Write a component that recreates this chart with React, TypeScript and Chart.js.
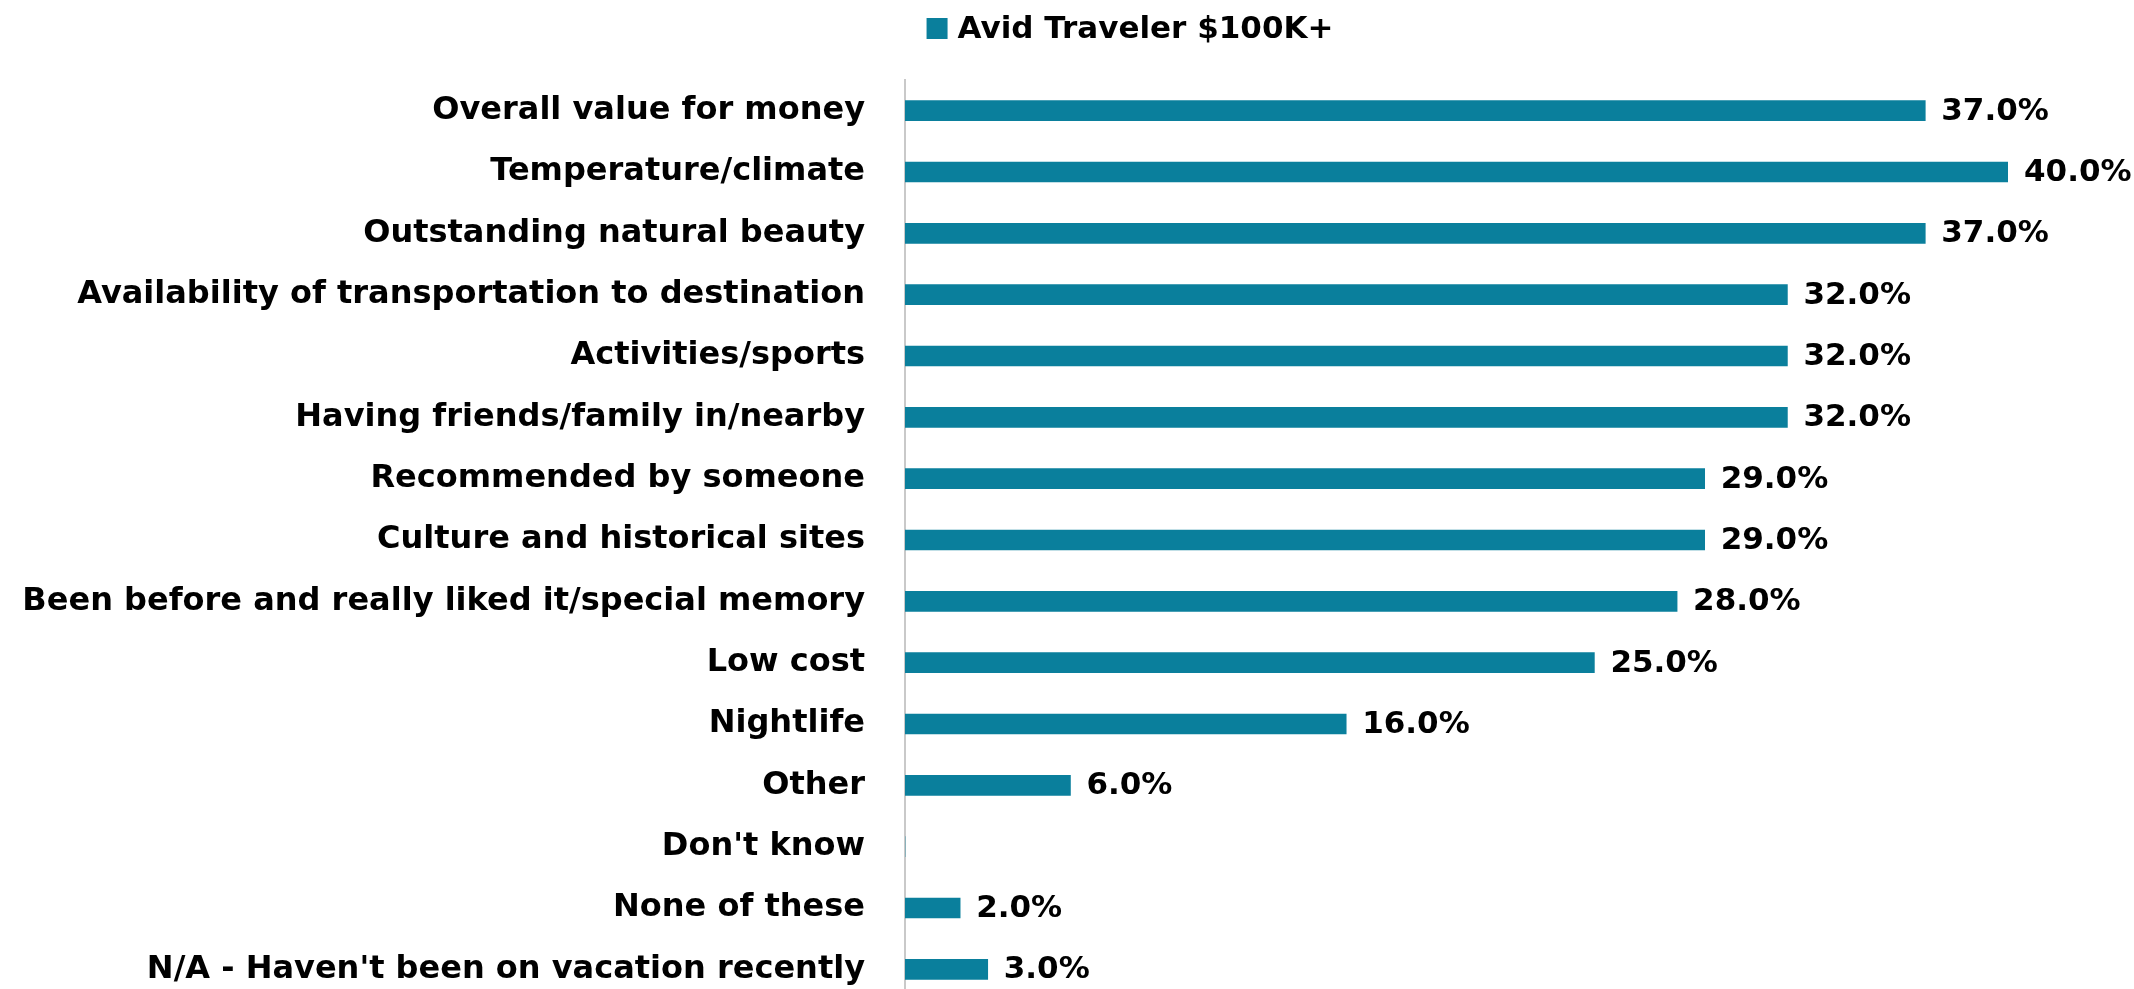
import React, { useEffect, useRef } from "react";
import { Chart, registerables } from "chart.js";

Chart.register(...registerables);

const categories: string[] = [
  "Overall value for money",
  "Temperature/climate",
  "Outstanding natural beauty",
  "Availability of transportation to destination",
  "Activities/sports",
  "Having friends/family in/nearby",
  "Recommended by someone",
  "Culture and historical sites",
  "Been before and really liked it/special memory",
  "Low cost",
  "Nightlife",
  "Other",
  "Don't know",
  "None of these",
  "N/A - Haven't been on vacation recently",
];

const seriesName = "Avid Traveler $100K+";
const seriesValues: number[] = [37, 40, 37, 32, 32, 32, 29, 29, 28, 25, 16, 6, 0, 2, 3];

const xMin = 0;
const xMax = 40;

const BAR_COLOR = "#0a7f9c";
const FONT = "'DejaVu Sans', sans-serif";

const valueLabelPlugin = {
  id: "valueLabels",
  afterDatasetsDraw(chart: any) {
    const ctx = chart.ctx;
    ctx.save();
    ctx.font = `bold 31px ${FONT}`;
    ctx.fillStyle = "#000";
    ctx.textAlign = "left";
    ctx.textBaseline = "middle";
    chart.data.datasets.forEach((ds: any, di: number) => {
      const meta = chart.getDatasetMeta(di);
      meta.data.forEach((el: any, i: number) => {
        const v = ds.data[i];
        if (v === null || v === undefined || v === 0) return;
        ctx.fillText(v.toFixed(1) + "%", el.x + 16, el.y + 1);
      });
    });
    ctx.restore();
  },
};

const topLegendPlugin = {
  id: "topLegend",
  afterDraw(chart: any) {
    const ctx = chart.ctx;
    const ds = chart.data.datasets[0];
    ctx.save();
    ctx.font = `bold 31px ${FONT}`;
    const tw = ctx.measureText(ds.label).width;
    const box = 21;
    const gap = 10;
    const total = box + gap + tw;
    const cx = 1130;
    const x0 = cx - total / 2;
    const cy = 28.5;
    ctx.fillStyle = ds.backgroundColor;
    ctx.fillRect(x0, cy - box / 2, box, box);
    ctx.fillStyle = "#000";
    ctx.textAlign = "left";
    ctx.textBaseline = "middle";
    ctx.fillText(ds.label, x0 + box + gap, cy + 1);
    ctx.restore();
  },
};

export default function App() {
  const canvasRef = useRef<HTMLCanvasElement | null>(null);

  useEffect(() => {
    if (!canvasRef.current) return;
    const chart = new Chart(canvasRef.current, {
      type: "bar",
      data: {
        labels: categories,
        datasets: [
          {
            label: seriesName,
            data: seriesValues,
            backgroundColor: BAR_COLOR,
            borderWidth: 0,
            barThickness: 20,
          },
        ],
      },
      options: {
        indexAxis: "y",
        responsive: false,
        animation: false,
        devicePixelRatio: 1,
        layout: { padding: { top: 80, right: 126, left: 0, bottom: 1 } },
        plugins: {
          legend: { display: false },
          tooltip: { enabled: false },
        },
        scales: {
          x: {
            display: false,
            min: xMin,
            max: xMax,
          },
          y: {
            grid: { display: false },
            border: { display: true, color: "#c9c9c9", width: 2 },
            ticks: {
              color: "#000",
              padding: 32,
              font: { family: FONT, size: 32, weight: "bold" },
            },
            afterFit(scale: any) {
              scale.width = 905;
              scale.paddingTop = 0;
              scale.paddingBottom = 0;
            },
          },
        },
      },
      plugins: [valueLabelPlugin, topLegendPlugin],
    } as any);
    return () => chart.destroy();
  }, []);

  return (
    <div
      style={{
        position: "fixed",
        left: 0,
        top: 0,
        width: 2134,
        height: 989,
        overflow: "hidden",
        background: "#fff",
      }}
    >
      <canvas ref={canvasRef} width={2134} height={1001} style={{ display: "block" }} />
    </div>
  );
}
